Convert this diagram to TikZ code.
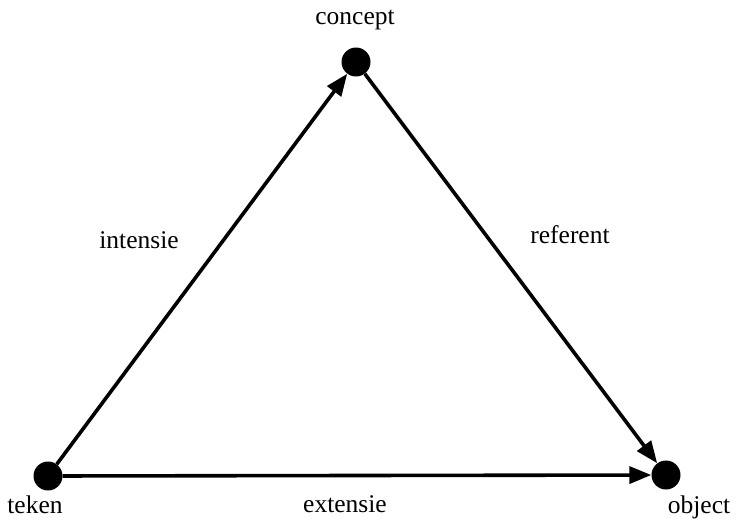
\documentclass[tikz,border=0pt]{standalone}
\usepackage{fontspec}
\setmainfont{Liberation Serif}
\usetikzlibrary{positioning}
\usetikzlibrary{arrows.meta}

\begin{document}
\begin{tikzpicture}[
                x=1pt, y=-1pt,
                every node/.style={font=\fontsize{25.5}{30}\selectfont},
                dot/.style={circle, fill=black, minimum size=29pt, inner sep=0pt},
                lbl/.style={anchor=base, inner sep=0pt},
                link/.style={line width=3.6pt, -{Triangle[length=22pt, width=17pt]}}
            ]
            \useasboundingbox (0,0) rectangle (736,519);
            % Nodes
            \node[dot] (concept) at (356,62) {};
            \node[dot] (teken) at (48,476) {};
            \node[dot] (object) at (666,475) {};
            \node[lbl] (conceptlbl) at (355,25) {concept};
            \node[lbl] (tekenlbl) at (35,513) {teken};
            \node[lbl] (objectlbl) at (699,513) {object};
            \node[lbl] (intensie) at (139,248) {intensie};
            \node[lbl] (referent) at (570,243) {referent};
            \node[lbl] (extensie) at (345,512) {extensie};
            % Arrows
            \draw[link] (teken) -- (concept);
            \draw[link] (concept) -- (object);
            \draw[link] (teken) -- (object);
            \end{tikzpicture}
\end{document}
